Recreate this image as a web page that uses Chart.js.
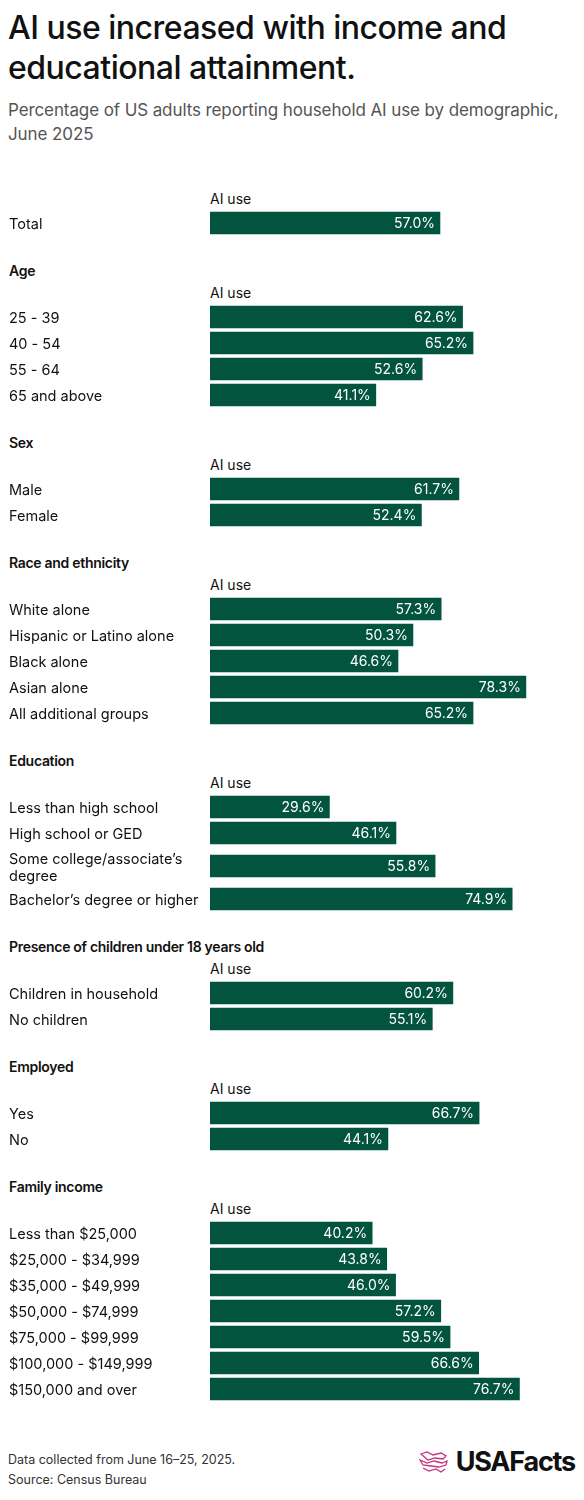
<!DOCTYPE html>
<html lang="en">
<head>
<meta charset="UTF-8">
<title>AI use by demographic</title>
<script src="https://cdn.jsdelivr.net/npm/chart.js"></script>
<style>
  body { margin: 0; background: #fff; font-family: Inter, "Noto Sans", sans-serif; color: #111; }
  .page { width: 584px; position: relative; }
  h1 { margin: 8px 0 0 8px; font-size: 32px; line-height: 40px; font-weight: 500; letter-spacing: -0.5px; }
  .sub { margin: 10px 0 0 8px; font-size: 17px; line-height: 24px; color: #555; letter-spacing: -0.1px; }
  .head { height: 22px; line-height: 22px; padding-left: 9px; font-size: 14px; font-weight: 600; letter-spacing: -0.3px; margin-top: 24px; }
  .ai { height: 22px; line-height: 22px; padding-left: 210px; font-size: 14px; }
  .box { position: relative; width: 584px; }
  .foot { margin: 48px 0 0 8px; font-size: 12.5px; line-height: 20px; color: #333; }
  .logo { position: absolute; right: 9px; bottom: 12px; display: flex; align-items: center; }
  .logo span { font-size: 27px; font-weight: 700; letter-spacing: -1.2px; color: #111; margin-left: 7px; }
</style>
</head>
<body>
<div class="page" id="page">
  <h1>AI use increased with income and educational attainment.</h1>
  <div class="sub">Percentage of US adults reporting household AI use by demographic, June 2025</div>
  <div id="charts"></div>
  <div class="foot">Data collected from June 16–25, 2025.<br>Source: Census Bureau</div>
  <div class="logo">
    <svg width="30" height="24" viewBox="0 0 30 24" fill="none" stroke="#c8317d" stroke-width="1.3">
      <path d="M2 4 L8 2 L14 5 L22 3 L27 6 L24 9 L16 8 L9 10 Z"/>
      <path d="M1 10 L8 13 L15 11 L23 13 L28 11 L27 15 L20 17 L12 16 L4 15 Z"/>
      <path d="M4 18 L10 21 L17 19 L22 22 L26 19"/>
    </svg>
    <span>USAFacts</span>
  </div>
</div>

<script>
// data
const totalLabels = ['Total'];
const totalValues = [57.0];

const ageLabels = ['25 - 39', '40 - 54', '55 - 64', '65 and above'];
const ageValues = [62.6, 65.2, 52.6, 41.1];

const sexLabels = ['Male', 'Female'];
const sexValues = [61.7, 52.4];

const raceLabels = ['White alone', 'Hispanic or Latino alone', 'Black alone', 'Asian alone', 'All additional groups'];
const raceValues = [57.3, 50.3, 46.6, 78.3, 65.2];

const eduLabels = ['Less than high school', 'High school or GED', ['Some college/associate\u2019s', 'degree'], 'Bachelor\u2019s degree or higher'];
const eduValues = [29.6, 46.1, 55.8, 74.9];

const kidsLabels = ['Children in household', 'No children'];
const kidsValues = [60.2, 55.1];

const empLabels = ['Yes', 'No'];
const empValues = [66.7, 44.1];

const incomeLabels = ['Less than $25,000', '$25,000 - $34,999', '$35,000 - $49,999', '$50,000 - $74,999', '$75,000 - $99,999', '$100,000 - $149,999', '$150,000 and over'];
const incomeValues = [40.2, 43.8, 46.0, 57.2, 59.5, 66.6, 76.7];

const BAR = '#03543f';
const wrap = document.getElementById('charts');

// white value labels inside bar ends
const valueLabels = {
    id: 'valueLabels',
    afterDatasetsDraw(chart) {
        const c = chart.ctx;
        const meta = chart.getDatasetMeta(0);
        c.save();
        c.fillStyle = '#fff';
        c.font = '14px Inter, "Noto Sans", sans-serif';
        c.textAlign = 'right';
        c.textBaseline = 'middle';
        meta.data.forEach((bar, i) => {
            c.fillText(chart.data.datasets[0].data[i].toFixed(1) + '%', bar.x - 5, bar.y + 1);
        });
        c.restore();
    }
};

function addText(cls, txt) {
    const d = document.createElement('div');
    d.className = cls;
    d.textContent = txt;
    wrap.appendChild(d);
}

function makeChart(labels, values, rowH) {
    const box = document.createElement('div');
    box.className = 'box';
    box.style.height = (labels.length * rowH) + 'px';
    const cv = document.createElement('canvas');
    box.appendChild(cv);
    wrap.appendChild(box);
    new Chart(cv, {
        type: 'bar',
        data: {
            labels: labels,
            datasets: [{ data: values, backgroundColor: BAR, barThickness: 22, borderWidth: 0 }]
        },
        options: {
            indexAxis: 'y',
            responsive: true,
            maintainAspectRatio: false,
            animation: false,
            layout: { padding: { left: 9, right: 0, top: 0, bottom: 0 } },
            plugins: { legend: { display: false }, tooltip: { enabled: false } },
            scales: {
                x: { display: false, min: 0, max: 92.7 },
                y: {
                    grid: { display: false },
                    border: { display: false },
                    ticks: {
                        crossAlign: 'far',
                        labelOffset: 2,
                        color: '#111',
                        font: { family: 'Inter, "Noto Sans", sans-serif', size: 14.5, lineHeight: 1.2 }
                    },
                    afterFit(scale) {
                        scale.width = 201;
                        // no label overhang padding: rows fill the box exactly
                        scale.paddingTop = 0;
                        scale.paddingBottom = 0;
                    }
                }
            }
        },
        plugins: [valueLabels]
    });
}

function section(title, labels, values) {
    if (title) addText('head', title);
    addText('ai', 'AI use');
    makeChart(labels, values, 26);
}

// Total (no header)
const firstAi = document.createElement('div');
firstAi.className = 'ai';
firstAi.style.marginTop = '42px';
firstAi.textContent = 'AI use';
wrap.appendChild(firstAi);
makeChart(totalLabels, totalValues, 26);

section('Age', ageLabels, ageValues);
section('Sex', sexLabels, sexValues);
section('Race and ethnicity', raceLabels, raceValues);

// education: the two-line row is taller
addText('head', 'Education');
addText('ai', 'AI use');
makeChart(eduLabels.slice(0, 2), eduValues.slice(0, 2), 26);
makeChart(eduLabels.slice(2, 3), eduValues.slice(2, 3), 40);
makeChart(eduLabels.slice(3), eduValues.slice(3), 26);

section('Presence of children under 18 years old', kidsLabels, kidsValues);
section('Employed', empLabels, empValues);
section('Family income', incomeLabels, incomeValues);
</script>
</body>
</html>
